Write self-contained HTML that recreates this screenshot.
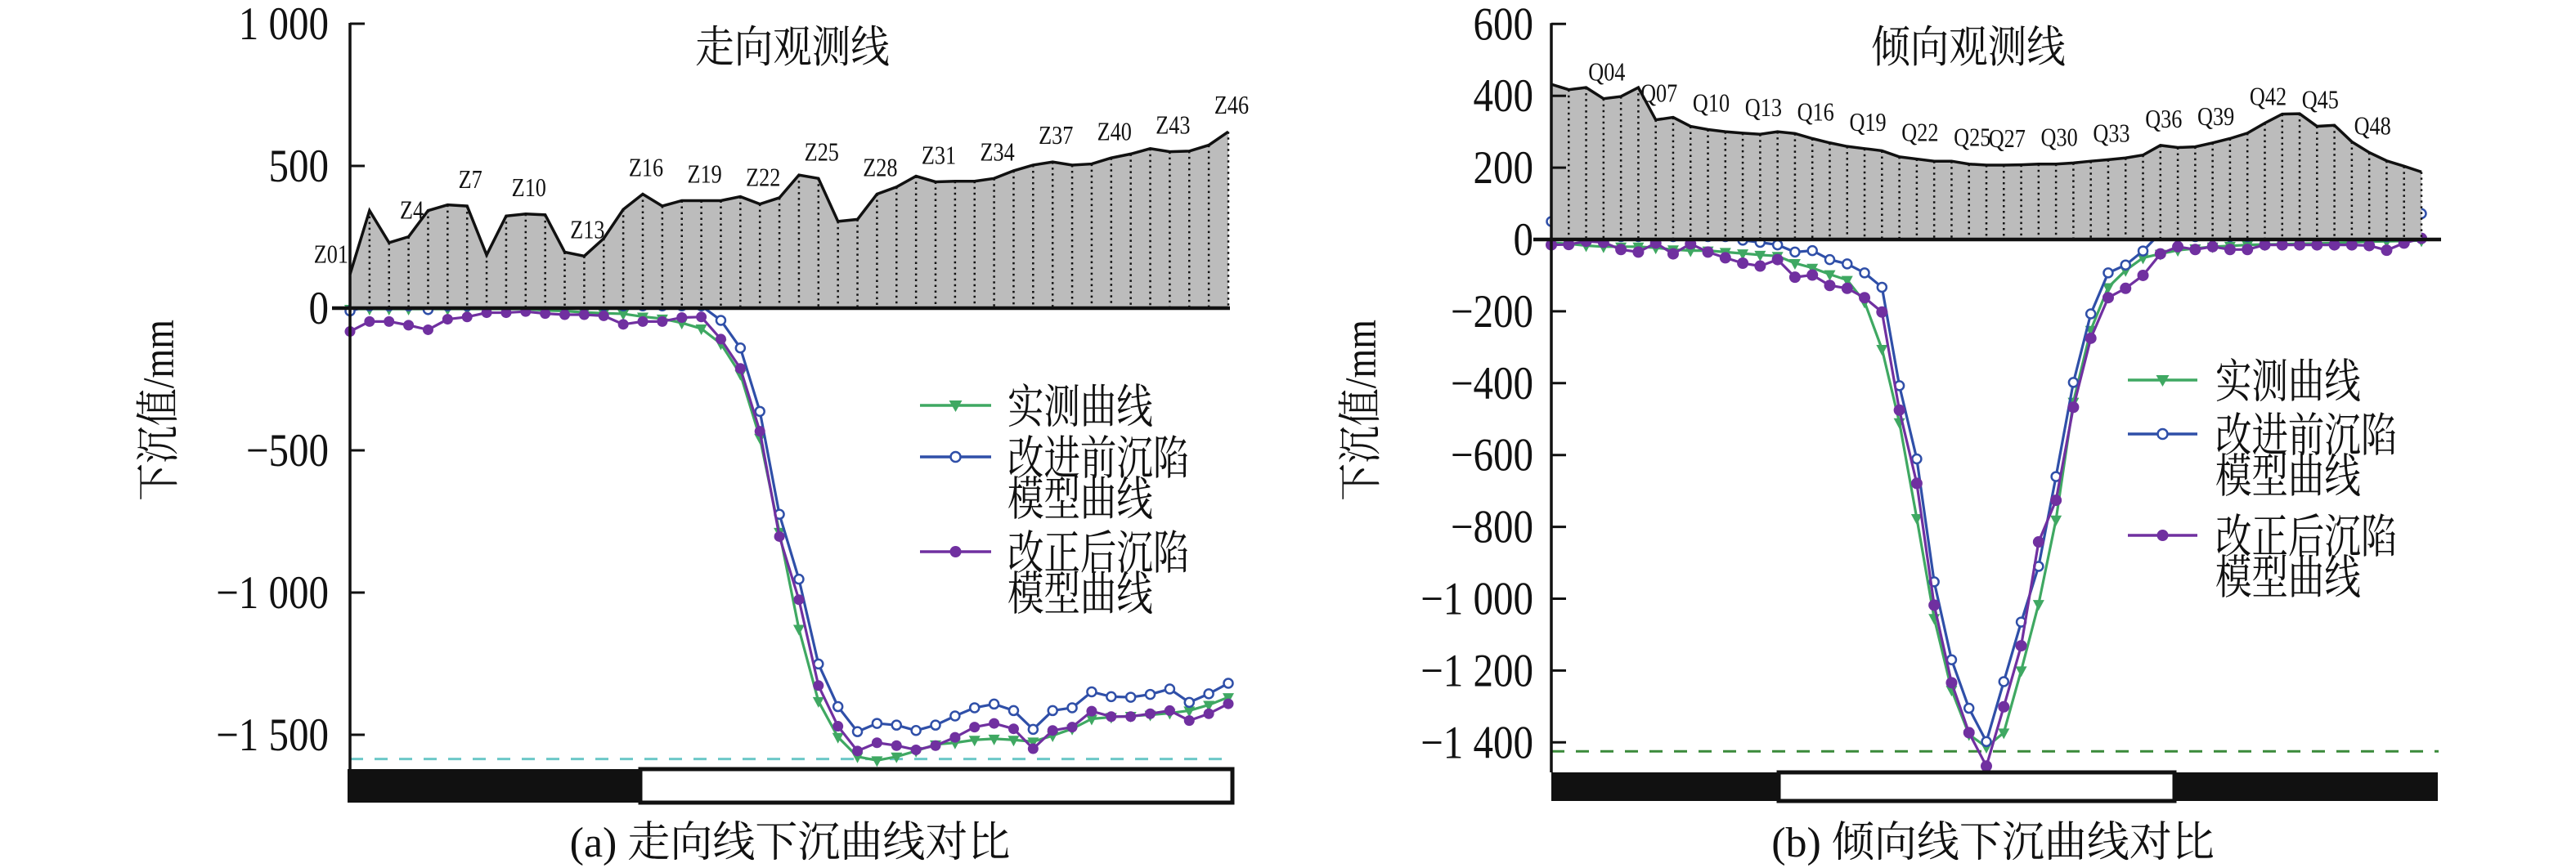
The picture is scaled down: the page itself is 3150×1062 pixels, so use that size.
<!DOCTYPE html>
<html><head><meta charset="utf-8"><style>
html,body{margin:0;padding:0;background:#fff;width:3150px;height:1062px;overflow:hidden}
svg text{font-family:"Liberation Serif","Noto Serif CJK SC","Noto Sans CJK SC",serif;fill:#111}
</style></head><body>
<svg id="chart" width="3150" height="1062" viewBox="0 0 3150 1062" xmlns="http://www.w3.org/2000/svg"></svg>
<script>
// ---------- Panel (a) data: strike line ----------
const aProfile=[119,343,230,251,343,363,359,187,324,331,328,197,183,245,347,401,359,378,378,378,392,366,388,468,456,305,312,401,426,464,444,446,446,456,483,503,514,503,507,528,542,561,550,552,573,620];
const aMeasured=[-3,-3,-3,-3,-3,-3,-3,-3,-3,-3,-8,-10,-15,-18,-20,-30,-37,-52,-72,-125,-232,-456,-787,-1128,-1382,-1508,-1577,-1590,-1577,-1557,-1534,-1528,-1518,-1514,-1518,-1524,-1503,-1479,-1444,-1438,-1434,-1430,-1424,-1415,-1395,-1368];
const aBefore=[-10,8,8,8,-5,8,8,8,8,8,8,8,8,8,8,8,8,8,8,-43,-140,-363,-725,-953,-1251,-1401,-1489,-1460,-1466,-1485,-1466,-1434,-1405,-1392,-1415,-1481,-1415,-1405,-1349,-1366,-1368,-1358,-1339,-1386,-1356,-1319];
const aAfter=[-82,-47,-47,-60,-76,-39,-31,-16,-16,-12,-19,-23,-23,-27,-57,-47,-47,-33,-31,-109,-212,-433,-803,-1025,-1327,-1470,-1557,-1528,-1538,-1553,-1538,-1509,-1473,-1460,-1479,-1549,-1485,-1473,-1417,-1436,-1436,-1426,-1415,-1450,-1426,-1391];
const aTicks=[1000,500,0,-500,-1000,-1500];
const aTickLabels=["1 000","500","0","\u2212500","\u22121 000","\u22121 500"];
const aRef=-1585;
// ---------- Panel (b) data: dip line ----------
const bProfile=[432,417,423,392,398,423,333,340,315,306,300,296,293,300,295,281,269,259,253,247,230,224,218,218,210,207,207,208,210,210,213,218,222,227,235,262,256,258,269,281,296,324,349,350,315,318,272,242,219,204,188];
const bMeasured=[-9,-12,-17,-20,-20,-20,-23,-28,-31,-31,-35,-39,-43,-46,-66,-79,-97,-113,-174,-305,-509,-776,-1054,-1254,-1378,-1413,-1373,-1200,-1015,-780,-452,-252,-133,-86,-51,-40,-30,-25,-20,-18,-15,-14,-13,-12,-11,-10,-8,-6,-5,-4,-3];
const bBefore=[50,8,8,8,8,8,8,8,8,8,8,-2,-8,-15,-35,-31,-56,-68,-93,-133,-407,-611,-953,-1170,-1305,-1398,-1231,-1065,-910,-660,-398,-207,-93,-71,-32,18,8,8,8,8,8,8,8,8,8,8,8,8,8,8,72];
const bAfter=[-15,-14,-5,-8,-28,-35,-10,-40,-12,-35,-51,-66,-74,-56,-105,-99,-128,-136,-162,-202,-475,-679,-1018,-1234,-1373,-1466,-1301,-1131,-842,-726,-467,-275,-162,-136,-100,-40,-20,-28,-20,-28,-28,-15,-15,-15,-15,-15,-15,-17,-30,-10,3];
const bTicks=[600,400,200,0,-200,-400,-600,-800,-1000,-1200,-1400];
const bTickLabels=["600","400","200","0","\u2212200","\u2212400","\u2212600","\u2212800","\u22121 000","\u22121 200","\u22121 400"];
const bRef=-1425;

const NS="http://www.w3.org/2000/svg";
const svg=document.getElementById('chart');
function mk(tag,attrs,parent){const e=document.createElementNS(NS,tag);for(const k in attrs)e.setAttribute(k,attrs[k]);(parent||svg).appendChild(e);return e;}
function T(parent,x,y,str,size,sx,anchor,rot){
  const tr=`translate(${x},${y})`+(rot?` rotate(${rot})`:'')+` scale(${sx},1)`;
  const t=mk('text',{x:0,y:0,'font-size':size,'text-anchor':anchor||'start',transform:tr},parent);
  t.textContent=str;return t;
}
const GREEN="#3fa862",BLUE="#2f4fa8",PURPLE="#7030a0";

function panel(cfg){
  const g=mk('g',{});
  
  
  const n=cfg.profile.length;
  const X=i=>cfg.x0+i*(cfg.x1-cfg.x0)/(n-1);
  const Y=v=>cfg.y0-v*cfg.k;
  const ref=mk('line',{x1:cfg.x0,x2:cfg.refEnd,y1:Y(cfg.ref),y2:Y(cfg.ref),stroke:cfg.refColor,'stroke-width':3,'stroke-dasharray':'16 14'},g);
  
  
  const series=[[cfg.measured,GREEN,'tri','measured-curve'],[cfg.before,BLUE,'open','before-model-curve'],[cfg.after,PURPLE,'dot','after-model-curve']];
  series.forEach(([arr,col,mkType,nm])=>{
    const sg=mk('g',{},g);
    
    
    mk('polyline',{points:arr.map((v,i)=>X(i)+','+Y(v)).join(' '),fill:'none',stroke:col,'stroke-width':3.2,'stroke-linejoin':'round'},sg);
    arr.forEach((v,i)=>{
      const x=X(i),y=Y(v);let m;
      if(mkType==='tri')m=mk('path',{d:`M${x-7},${y-5} L${x+7},${y-5} L${x},${y+8} Z`,fill:col},sg);
      else if(mkType==='open')m=mk('circle',{cx:x,cy:y,r:5.5,fill:'#fff',stroke:col,'stroke-width':2.5},sg);
      else m=mk('circle',{cx:x,cy:y,r:cfg.dotR,fill:col},sg);
      
      
    });
  });
  let d='M'+X(0)+','+Y(0);
  cfg.profile.forEach((v,i)=>{d+=' L'+X(i)+','+Y(v);});
  d+=' L'+X(n-1)+','+Y(0)+' Z';
  const area=mk('path',{d:d,fill:'#bcbcbc',stroke:'none'},g);
  
  
  cfg.profile.forEach((v,i)=>{
    const l=mk('line',{x1:X(i),x2:X(i),y1:Y(v),y2:Y(0),stroke:'#111','stroke-width':2.5,'stroke-dasharray':'2.5 4.5'},g);
    
    
  });
  const top=mk('polyline',{points:cfg.profile.map((v,i)=>X(i)+','+Y(v)).join(' '),fill:'none',stroke:'#111','stroke-width':3.5},g);
  
  
  cfg.labelIdx.forEach((i,j)=>{
    const special=(j===0&&cfg.firstLeft);
    const t=T(g,special?X(i)-2:X(i)+4,special?Y(cfg.profile[i])-14:Y(cfg.profile[i])-22,cfg.labels[j],32,0.82,special?'end':'middle');
    
    
  });
  const zl=mk('line',{x1:cfg.x0-22,x2:cfg.zeroEnd,y1:Y(0),y2:Y(0),stroke:'#111','stroke-width':4.5},g);
  
  
  const ya=mk('line',{x1:cfg.x0,x2:cfg.x0,y1:Y(cfg.ticks[0])-1,y2:cfg.barTop,stroke:'#111','stroke-width':3.5},g);
  
  
  cfg.ticks.forEach((v,i)=>{
    const tk=mk('line',{x1:cfg.x0,x2:cfg.x0+18,y1:Y(v),y2:Y(v),stroke:'#111','stroke-width':3},g);
    
    
    const t=T(g,cfg.tickRight,Y(v)+19,cfg.tickLabels[i],57,0.86,'end');
    
    
  });
  const yt=T(g,cfg.ytX,502,'下沉值/mm',54,0.85,'middle',-90);
  
  
  const tt=T(g,cfg.titleX,76,cfg.title,54,0.88,'middle');
  
  
  const bar=mk('g',{},g);
  
  
  cfg.bars.forEach(b=>{
    mk('rect',{x:b[0],y:cfg.barTop,width:b[1]-b[0],height:cfg.barBot-cfg.barTop,fill:b[2]?'#111':'#fff',stroke:'#111','stroke-width':b[2]?0:5},bar);
  });
  const lg=mk('g',{},g);
  
  
  const L=cfg.legend;
  [[L.y[0],GREEN,'tri',['实测曲线']],[L.y[1],BLUE,'open',['改进前沉陷','模型曲线']],[L.y[2],PURPLE,'dot',['改正后沉陷','模型曲线']]].forEach(([y,col,t,lines])=>{
    const e=mk('g',{},lg);
    
    
    mk('line',{x1:L.x1,x2:L.x2,y1:y,y2:y,stroke:col,'stroke-width':3.5},e);
    const cx=(L.x1+L.x2)/2;
    if(t==='tri')mk('path',{d:`M${cx-8},${y-6} L${cx+8},${y-6} L${cx},${y+8} Z`,fill:col},e);
    else if(t==='open')mk('circle',{cx:cx,cy:y,r:6,fill:'#fff',stroke:col,'stroke-width':2.5},e);
    else mk('circle',{cx:cx,cy:y,r:7,fill:col},e);
    lines.forEach((s,k)=>{T(e,L.tx,y+21+k*50,s,57,0.78,'start');});
  });
  const cap=T(g,cfg.capX,1048,cfg.caption,52,1.0,'middle');
  
  
}

panel({name:'panel-a-strike',profile:aProfile,measured:aMeasured,before:aBefore,after:aAfter,ticks:aTicks,tickLabels:aTickLabels,
  x0:428,x1:1502,y0:377,k:174/500,ref:aRef,refColor:'#6cc8c8',refEnd:1505,zeroEnd:1504,dotR:6.5,
  labelIdx:[0,3,6,9,12,15,18,21,24,27,30,33,36,39,42,45],
  labels:['Z01','Z4','Z7','Z10','Z13','Z16','Z19','Z22','Z25','Z28','Z31','Z34','Z37','Z40','Z43','Z46'],firstLeft:true,
  tickRight:402,ytX:212,titleX:969,title:'走向观测线',barTop:941,barBot:982,
  bars:[[425,783,true],[783,1507,false]],
  legend:{x1:1125,x2:1212,tx:1232,y:[496,559,675]},capX:966,caption:'(a) 走向线下沉曲线对比'});

panel({name:'panel-b-dip',profile:bProfile,measured:bMeasured,before:bBefore,after:bAfter,ticks:bTicks,tickLabels:bTickLabels,
  x0:1897,x1:2961,y0:293,k:0.4395,ref:bRef,refColor:'#3a8a3a',refEnd:2982,zeroEnd:2985,dotR:7,
  labelIdx:[3,6,9,12,15,18,21,24,26,29,32,35,38,41,44,47],
  labels:['Q04','Q07','Q10','Q13','Q16','Q19','Q22','Q25','Q27','Q30','Q33','Q36','Q39','Q42','Q45','Q48'],firstLeft:false,
  tickRight:1875,ytX:1682,titleX:2407,title:'倾向观测线',barTop:945,barBot:980,
  bars:[[1897,2981,true],[2175,2659,false]],
  legend:{x1:2602,x2:2687,tx:2709,y:[465,531,655]},capX:2437,caption:'(b) 倾向线下沉曲线对比'});
</script>
</body></html>
